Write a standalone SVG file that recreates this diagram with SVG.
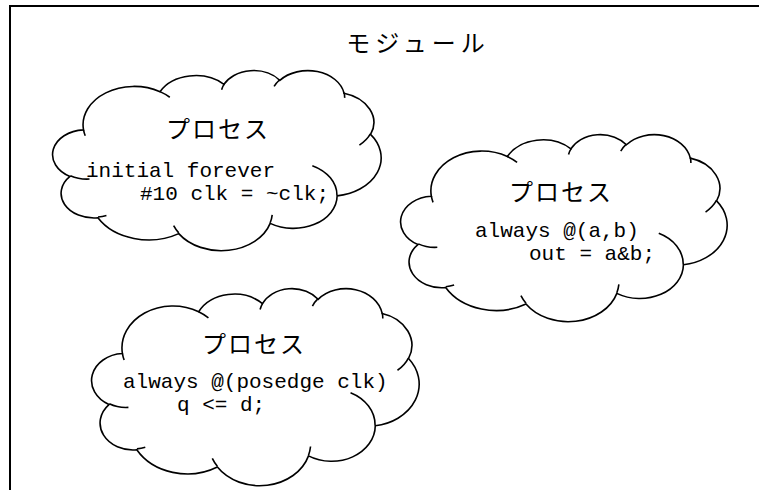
<svg xmlns="http://www.w3.org/2000/svg" xmlns:xlink="http://www.w3.org/1999/xlink" width="759" height="490" viewBox="0 0 759 490">
<style>
.frame{fill:#fff;stroke:#000;stroke-width:2}
.cl{fill:#fff;stroke:#000;stroke-width:1.6;vector-effect:non-scaling-stroke}
.cu{fill:none;stroke:#000;stroke-width:1.6;vector-effect:non-scaling-stroke}
.jp{font-family:"Liberation Serif","Noto Sans CJK JP",serif;font-size:24px;letter-spacing:2px;fill:#000;text-anchor:middle}
.title{letter-spacing:5px}
.code{font-family:"Liberation Mono","Courier New",monospace;font-size:21px;fill:#000;white-space:pre}
</style>
<defs>
<g id="cloud">
<path class="cl" d="M3900 14370 A6753 9190 0 0 1 14005 5202 A5333 7267 0 0 1 22455 3432 A4365 5945 0 0 1 29833 2480 A4857 6595 0 0 1 38319 5573 A5333 7273 0 0 1 41819 15457 A6775 9220 0 0 1 37406 30202 A5785 7867 0 0 1 28557 36812 A6752 9215 0 0 1 16483 39267 A7720 10543 0 0 1 5804 35475 A4360 5918 0 0 1 2114 25553 A4345 5945 0 0 1 3900 14370 Z"/>
<path class="cu" d="M4693 26177 A4345 5945 0 0 1 2159 25379 M6928 34899 A4360 5918 0 0 1 5819 35281 M16478 39090 A6752 9215 0 0 1 15809 37348 M28827 34751 A6752 9215 0 0 1 28560 36660 M34129 22954 A5785 7867 0 0 1 37380 30089 M41798 15354 A5333 7273 0 0 1 40349 18031 M38324 5426 A4857 6595 0 0 1 38400 6690 M29078 3952 A4857 6595 0 0 1 29820 2340 M22141 4720 A4365 5945 0 0 1 22500 3331 M14000 5192 A6753 9190 0 0 1 15298 6538 M4127 15789 A6753 9190 0 0 1 3901 14371"/>
</g>
</defs>
<g id="module">
<rect class="frame" x="10" y="6" width="800" height="520"/>
<text class="jp title" x="418" y="52">モジュール</text>
</g>
<g id="process1">
<use href="#cloud" xlink:href="#cloud" transform="translate(54,70) scale(0.0075694,0.0041667)"/>
<text class="jp" x="218" y="138">プロセス</text>
<text class="code" x="86" y="177">initial forever</text>
<text class="code" x="140" y="200">#10 clk = ~clk;</text>
</g>
<g id="process2">
<use href="#cloud" xlink:href="#cloud" transform="translate(402,134) scale(0.0075231,0.0043287)"/>
<text class="jp" x="561" y="201">プロセス</text>
<text class="code" x="475" y="237">always @(a,b)</text>
<text class="code" x="529" y="260">out = a&amp;b;</text>
</g>
<g id="process3">
<use href="#cloud" xlink:href="#cloud" transform="translate(93,288) scale(0.0075463,0.0045602)"/>
<text class="jp" x="254" y="353">プロセス</text>
<text class="code" x="123" y="388">always @(posedge clk)</text>
<text class="code" x="177" y="411">q &lt;= d;</text>
</g>
</svg>
